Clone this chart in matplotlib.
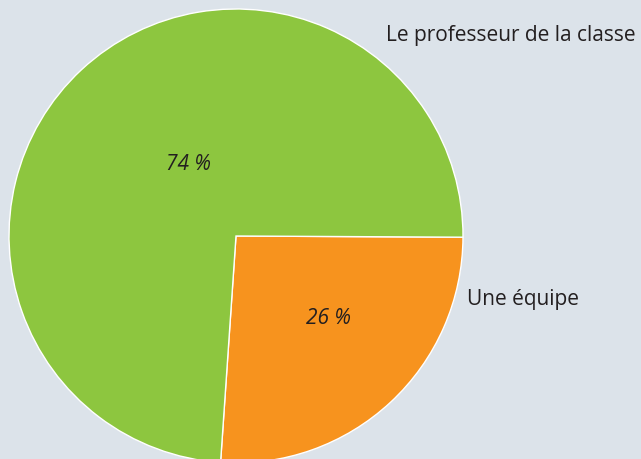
import matplotlib.pyplot as plt

# données
categories = ["Une équipe", "Le professeur de la classe"]
values = [26, 74]
pct_labels = ["26 %", "74 %"]
colors = ["#f7931e", "#8dc63f"]

bg = "#dce3ea"
W, H = 641, 459

fig = plt.figure(figsize=(W / 100, H / 100), dpi=100, facecolor=bg)
ax = fig.add_axes([0, 0, 1, 1])
ax.set_facecolor(bg)

cx, cy, r = 236, H - 236, 227
wedges, _ = ax.pie(values, colors=colors, startangle=-0.3, counterclock=False,
                   center=(cx, cy), radius=r, frame=True,
                   wedgeprops=dict(edgecolor="white", linewidth=1))
ax.set_xlim(0, W)
ax.set_ylim(0, H)
ax.set_aspect("equal")
ax.axis("off")

txt = "#231f20"
font = "Open Sans"
fs = 15
# pourcentages
ax.text(328, H - 319, pct_labels[0], ha="center", va="center", fontsize=fs,
        style="italic", color=txt, family=font)
ax.text(188, H - 165, pct_labels[1], ha="center", va="center", fontsize=fs,
        style="italic", color=txt, family=font)
# étiquettes
ax.text(467, H - 299, categories[0], ha="left", va="center", fontsize=fs,
        color=txt, family=font)
ax.text(386, H - 36, categories[1], ha="left", va="center", fontsize=fs,
        color=txt, family=font)

fig.savefig("out.png", dpi=100, facecolor=bg)
